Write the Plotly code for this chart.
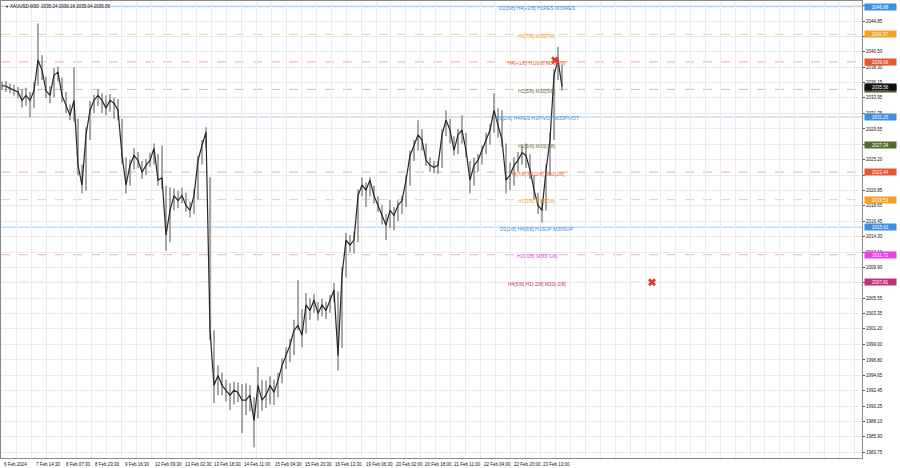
import plotly.graph_objects as go

# ---------------- data ----------------
symbol = "XAUUSD,M30"
header_values = [2035.24, 2036.16, 2035.04, 2035.56]
last_price = 2035.56

close = [2035.7, 2035.6, 2035.3, 2035.0, 2034.8, 2033.6, 2034.3, 2033.6, 2035.0, 2039.3,
         2037.9, 2035.0, 2034.3, 2037.2, 2037.6, 2034.3, 2032.9, 2031.5, 2033.6, 2024.4,
         2021.6, 2028.7, 2032.2, 2033.6, 2034.3, 2033.6, 2032.5, 2033.6, 2033.2, 2032.2,
         2025.8, 2021.6, 2024.4, 2025.8, 2025.1, 2023.4, 2024.4, 2025.1, 2026.8, 2022.3,
         2022.6, 2014.5, 2018.0, 2020.1, 2019.4, 2020.1, 2018.7, 2018.0, 2020.1, 2025.1,
         2027.2, 2029.1, 2001.0, 1993.2, 1994.6, 1993.2, 1992.5, 1991.8, 1992.5, 1992.2,
         1991.1, 1991.1, 1991.8, 1988.2, 1993.2, 1991.1, 1991.8, 1993.2, 1992.2, 1993.9,
         1996.0, 1997.4, 1998.9, 2001.0, 2001.7, 2000.3, 2004.6, 2003.8, 2005.3, 2003.4,
         2004.6, 2003.8, 2005.3, 2006.7, 1997.4, 2008.8, 2013.8, 2013.1, 2013.8, 2020.1,
         2021.6, 2020.9, 2022.3, 2020.1, 2018.7, 2017.3, 2015.9, 2018.0, 2017.3, 2018.7,
         2019.4, 2022.3, 2025.8, 2027.2, 2028.7, 2028.0, 2025.1, 2024.4, 2024.1, 2024.4,
         2028.7, 2030.8, 2029.4, 2026.5, 2028.7, 2029.4, 2026.5, 2022.3, 2024.4, 2025.1,
         2026.5, 2028.0, 2029.4, 2032.2, 2030.1, 2028.0, 2022.3, 2023.0, 2024.4, 2025.1,
         2026.2, 2025.8, 2023.7, 2020.9, 2018.7, 2018.0, 2023.7, 2028.0, 2037.2, 2039.3,
         2035.56]
high = [2036.3, 2036.4, 2036.0, 2035.8, 2035.5, 2035.2, 2035.4, 2034.8, 2036.2, 2044.5,
        2040.0, 2037.0, 2035.6, 2038.2, 2038.4, 2036.8, 2034.8, 2033.0, 2038.3, 2031.0,
        2024.5, 2029.8, 2033.5, 2034.4, 2035.2, 2034.6, 2034.3, 2034.5, 2034.0, 2033.8,
        2031.0, 2025.5, 2025.2, 2026.8, 2026.3, 2025.0, 2025.3, 2026.2, 2027.5, 2026.0,
        2027.2, 2021.5, 2021.3, 2021.1, 2020.8, 2021.2, 2020.5, 2019.2, 2021.0, 2025.8,
        2028.0, 2029.8, 2022.7, 2001.0, 1996.0, 1995.0, 1994.0, 1993.5, 1993.7, 1993.6,
        1993.4, 1993.5, 1993.2, 1991.5, 1995.8, 1994.0, 1993.9, 1994.5, 1994.0, 1995.0,
        1997.0, 1998.6, 1999.8, 2002.5, 2008.1, 2004.0, 2006.3, 2005.5, 2006.2, 2005.0,
        2005.5, 2005.0, 2006.0, 2007.7, 2006.5, 2010.0, 2014.8, 2014.5, 2015.0, 2021.0,
        2022.7, 2022.0, 2022.7, 2021.5, 2020.0, 2018.8, 2017.5, 2019.5, 2018.5, 2019.4,
        2020.0, 2023.0, 2026.5, 2028.0, 2030.8, 2029.5, 2027.5, 2025.5, 2025.0, 2025.0,
        2029.5, 2032.2, 2031.0, 2028.5, 2029.5, 2031.5, 2029.0, 2025.0, 2025.5, 2026.0,
        2027.2, 2029.0, 2030.3, 2034.6, 2032.5, 2032.2, 2027.5, 2024.8, 2025.5, 2026.3,
        2027.2, 2027.5, 2026.0, 2023.0, 2020.5, 2019.5, 2024.5, 2029.0, 2038.0, 2041.2,
        2038.6]
low = [2035.1, 2034.8, 2034.6, 2034.3, 2033.9, 2032.6, 2032.8, 2031.2, 2032.5, 2035.7,
       2036.5, 2033.9, 2033.2, 2034.0, 2036.3, 2033.3, 2031.8, 2030.8, 2030.6, 2023.0,
       2020.4, 2020.8, 2028.0, 2031.8, 2032.8, 2031.8, 2031.5, 2032.0, 2031.0, 2030.8,
       2024.6, 2020.4, 2021.5, 2023.8, 2024.0, 2022.5, 2023.0, 2024.2, 2024.5, 2021.5,
       2021.0, 2012.3, 2013.5, 2018.0, 2018.3, 2019.0, 2017.8, 2017.0, 2017.5, 2019.5,
       2024.5, 2026.8, 1999.6, 1990.7, 1991.8, 1991.8, 1990.9, 1989.7, 1990.5, 1990.8,
       1986.4, 1989.0, 1989.5, 1984.4, 1988.5, 1989.6, 1990.0, 1990.5, 1990.4, 1991.5,
       1993.5, 1995.5, 1996.5, 1997.5, 2001.0, 1998.6, 2000.5, 2002.5, 2003.5, 2002.4,
       2003.0, 2002.6, 2003.5, 2005.0, 1995.3, 1998.5, 2008.5, 2012.0, 2011.9, 2013.5,
       2020.0, 2018.5, 2020.0, 2019.0, 2017.8, 2016.0, 2013.8, 2015.5, 2015.2, 2016.5,
       2017.5, 2018.5, 2021.5, 2025.0, 2026.5, 2026.5, 2024.3, 2023.5, 2023.3, 2023.2,
       2024.0, 2028.5, 2027.5, 2025.8, 2026.0, 2027.5, 2025.5, 2020.4, 2021.5, 2023.5,
       2024.5, 2026.0, 2027.3, 2029.0, 2028.3, 2027.0, 2020.4, 2020.9, 2021.5, 2023.5,
       2024.5, 2024.0, 2022.5, 2019.5, 2017.5, 2016.3, 2018.0, 2023.0, 2028.0, 2036.5,
       2035.0]

tick_index = [0, 8, 15.5, 22.75, 30.25, 37.75, 45.25, 52.5, 60, 67.75, 75.25, 82.75,
              90.5, 98, 105.25, 112.5, 120, 127.5, 134.75]
tick_labels = ["6 Feb 2024", "7 Feb 14:30", "8 Feb 07:30", "8 Feb 23:30", "9 Feb 16:30",
               "12 Feb 09:30", "13 Feb 02:30", "13 Feb 18:30", "14 Feb 11:30", "15 Feb 04:30",
               "15 Feb 20:30", "16 Feb 13:30", "19 Feb 06:30", "20 Feb 02:00", "20 Feb 18:00",
               "21 Feb 11:00", "22 Feb 04:00", "22 Feb 20:00", "23 Feb 13:00"]

price_ticks = [1983.75, 1985.90, 1988.10, 1990.25, 1992.45, 1994.65, 1996.80, 1999.00,
               2001.20, 2003.35, 2005.55, 2007.75, 2009.90, 2012.10, 2014.30, 2016.45,
               2018.65, 2020.85, 2023.00, 2025.20, 2027.40, 2029.55, 2031.75, 2033.95,
               2036.15, 2038.30, 2040.50, 2042.70, 2044.85, 2047.05]
# tick labels that sit completely under a level box in the reference
hidden_ticks = [2007.75, 2023.00, 2027.40, 2042.70, 2047.05]

level_prices = [2046.88, 2042.97, 2039.06, 2035.16, 2031.25, 2027.34, 2023.44,
                2019.53, 2015.63, 2011.72, 2007.81]
level_labels = ["D1[3/8] H4[+2/8] H1RES M30RES",
                "H1[7/8] M30[7/8]",
                "H4[+1/8] H1[6/8] M30[6/8]",
                "H1[5/8] M30[5/8]",
                "D1[2/8] H4RES H1PIVOT M30PIVOT",
                "H1[3/8] M30[3/8]",
                "H4[7/8] H1[2/8] M30[2/8]",
                "H1[1/8] M30[1/8]",
                "D1[1/8] H4[6/8] H1SUP M30SUP",
                "H1[-1/8] M30[-1/8]",
                "H4[5/8] H1[-2/8] M30[-2/8]"]

marks_x = [138.25, 162.5]
marks_y = [2039.3, 2007.81]

# ---------------- styles ----------------
# (text colour, line colour, line dash, box colour) per level
LEVEL_STYLE = [
    ("#3d8fd9", "#a9cdee", "solid", "#3d8fe0"),
    ("#f0a532", "#f3cf98", "dash", "#f5a020"),
    ("#e8643c", "#eeae96", "dash", "#e4572e"),
    ("#6e6e48", "#c4c4b0", "dash", "#4b5a2e"),
    ("#3d8fd9", "#a9cdee", "solid", "#3d8fe0"),
    ("#6e6e48", "#c4c4b0", "dash", "#556b2f"),
    ("#e8643c", "#eeae96", "dash", "#e4572e"),
    ("#f0a532", "#f3cf98", "dash", "#f5a020"),
    ("#3d8fd9", "#a9cdee", "solid", "#3d8fe0"),
    ("#e040e0", "#f0a8f0", "dash", "#ee3ee8"),
    ("#c2357e", "#e0a4c4", "dash", "#c2307c"),
]
FONT = "Liberation Sans, Arial, sans-serif"
LABEL_X = 133.75

fig = go.Figure()

# high-low wicks
wx, wy = [], []
for i, (h, l) in enumerate(zip(high, low)):
    wx += [i, i, None]
    wy += [l, h, None]
fig.add_trace(go.Scatter(x=wx, y=wy, mode="lines",
                         line=dict(color="#8c8c8c", width=1.5), hoverinfo="skip"))
fig.add_trace(go.Scatter(x=list(range(len(close))), y=close, mode="lines",
                         line=dict(color="#262626", width=1.2)))
fig.add_trace(go.Scatter(x=marks_x, y=marks_y, mode="markers",
                         marker=dict(symbol="x", size=7, color="#e8352c",
                                     line=dict(width=0))))

shapes = []
annotations = []
for p, lab, st in zip(level_prices, level_labels, LEVEL_STYLE):
    tcol, lcol, dash, bcol = st
    shapes.append(dict(type="line", xref="paper", x0=0, x1=1, yref="y", y0=p, y1=p,
                       line=dict(color=lcol, width=1, dash=dash), layer="below"))
    annotations.append(dict(xref="x", x=LABEL_X, yref="y", y=p, text=lab, showarrow=False,
                            xanchor="center", yanchor="middle", yshift=-1.5,
                            font=dict(family=FONT, size=5, color=tcol)))
    annotations.append(dict(xref="paper", x=1, xanchor="left", xshift=2, yref="y", y=p,
                            yanchor="middle", text=f"{p:.2f}", showarrow=False,
                            bgcolor=bcol, width=31, height=6, borderpad=0,
                            font=dict(family=FONT, size=4.5, color="white")))
# current price box
annotations.append(dict(xref="paper", x=1, xanchor="left", xshift=2, yref="y", y=last_price,
                        yanchor="middle", text=f"{last_price:.2f}", showarrow=False,
                        bgcolor="#111111", width=31, height=6, borderpad=0,
                        font=dict(family=FONT, size=4.5, color="white")))

# x tick labels (left aligned like the terminal)
for xi, t in zip(tick_index, tick_labels):
    annotations.append(dict(xref="x", x=xi, yref="paper", y=0, yanchor="top", yshift=-2,
                            xanchor="left", text=t, showarrow=False,
                            font=dict(family=FONT, size=4.5, color="#111111")))

# header
annotations.append(dict(xref="paper", x=0, xanchor="left", xshift=2, yref="paper", y=1,
                        yanchor="top", yshift=-1, text="▼", showarrow=False,
                        font=dict(family=FONT, size=4, color="#222222")))
annotations.append(dict(xref="paper", x=0, xanchor="left", xshift=7, yref="paper", y=1,
                        yanchor="top", yshift=-1,
                        text=symbol + "  " + " ".join(f"{v:.2f}" for v in header_values),
                        showarrow=False,
                        font=dict(family=FONT, size=4.5, color="#111111")))

fig.update_layout(
    width=900, height=468,
    margin=dict(l=1, r=38, t=1, b=10),
    paper_bgcolor="white", plot_bgcolor="white",
    showlegend=False,
    shapes=shapes, annotations=annotations,
    xaxis=dict(range=[-0.25, 215.0], tickmode="linear", tick0=0, dtick=3.74,
               showticklabels=False, showgrid=True, gridcolor="#ececec", gridwidth=1,
               zeroline=False, showline=True, linecolor="#8a8a8a", mirror=True,
               ticks=""),
    yaxis=dict(range=[1982.90, 2047.69], side="right", tickmode="array",
               tickvals=price_ticks,
               ticktext=["" if v in hidden_ticks else f"{v:.2f}" for v in price_ticks],
               tickfont=dict(family=FONT, size=4.5, color="#111111"),
               ticks="outside", ticklen=2, tickcolor="#555555",
               showgrid=True, gridcolor="#ececec", gridwidth=1, zeroline=False,
               showline=True, linecolor="#8a8a8a", mirror=True),
)

fig.write_html("out.html", config={"displayModeBar": False},
               post_script="document.body.style.margin='0';document.body.style.padding='0';"
                           "document.body.style.overflow='hidden';")
